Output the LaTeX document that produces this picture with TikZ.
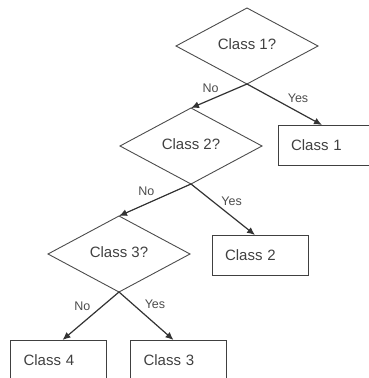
\documentclass[tikz,border=0pt]{standalone}
\usepackage{fontspec}
\setmainfont{Liberation Sans}
\usetikzlibrary{arrows.meta,positioning,shapes.geometric}

\begin{document}
\begin{tikzpicture}[
  font=\fontsize{15}{17}\selectfont,
  >=Latex,
  decision/.style={diamond, draw=black!70, line width=.9pt, text=black!75,
    minimum width=142pt, minimum height=76pt, inner sep=0pt, outer sep=0pt},
  leaf/.style={rectangle, draw=black!75, line width=1pt, text=black!75,
    minimum width=96pt, minimum height=40pt, text width=70pt, align=left,
    inner xsep=13pt, inner ysep=0pt, outer sep=0pt},
  flow/.style={-{Latex[length=8pt,width=7pt]}, line width=1.2pt, draw=black!80},
  lbl/.style={font=\fontsize{12.5}{14}\selectfont, text=black!70, inner sep=1pt}
]
\useasboundingbox (0,0) rectangle (369pt,-378pt);
\clip (0,0) rectangle (369pt,-378pt);

\node[decision] (q1) at (247pt,-46pt) {\raisebox{4pt}{Class 1?}};
\node[decision, below=24pt of q1, xshift=-56pt] (q2) {\raisebox{4pt}{Class 2?}};
\node[decision, below=32pt of q2, xshift=-72pt] (q3) {\raisebox{3pt}{Class 3?}};

\node[leaf, below=41pt of q1, xshift=79pt] (c1) {Class 1};
\node[leaf, below=51pt of q2, xshift=69pt] (c2) {Class 2};
\node[leaf, below=48pt of q3, xshift=-60.5pt] (c4) {Class 4};
\node[leaf, below=48pt of q3, xshift=59.5pt] (c3) {Class 3};

\draw[flow] (q1.south) -- node[lbl, pos=.65, above=5pt]{No} (q2.north);
\draw[flow] (q1.south) -- node[lbl, pos=.68, above=8pt]{Yes} ([xshift=-4pt]c1.north);
\draw[flow] (q2.south) -- node[lbl, pos=.62, above=7pt]{No} (q3.north);
\draw[flow] (q2.south) -- node[lbl, pos=.45, above right]{Yes} ([xshift=-5pt]c2.north);
\draw[flow] (q3.south) -- node[lbl, pos=.3, left=10pt]{No} ([xshift=4pt]c4.north);
\draw[flow] (q3.south) -- node[lbl, pos=.26, right=10pt]{Yes} ([xshift=-5pt]c3.north);

\end{tikzpicture}
\end{document}
